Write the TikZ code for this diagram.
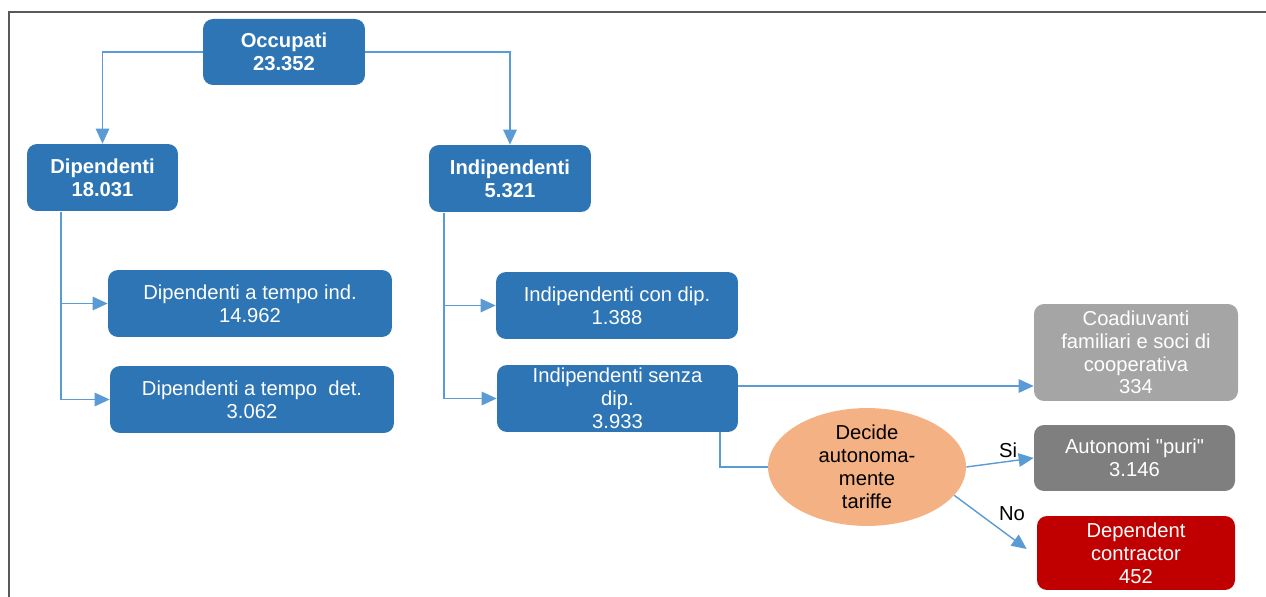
\documentclass[tikz,border=0pt]{standalone}
\usepackage{fontspec}
\setmainfont{Liberation Sans}
\usetikzlibrary{arrows.meta,shapes.geometric}
\definecolor{boxblue}{HTML}{2E75B6}
\definecolor{linkblue}{HTML}{5B9BD5}
\definecolor{coopgrey}{HTML}{A5A5A5}
\definecolor{autgrey}{HTML}{7F7F7F}
\definecolor{depred}{HTML}{C00000}
\definecolor{decorange}{HTML}{F4B183}
\definecolor{framegrey}{HTML}{595959}

\begin{document}
\begin{tikzpicture}[x=0.02cm, y=-0.02cm,
    font=\fontsize{11.5}{13}\selectfont,
    catbox/.style={rectangle, rounded corners=0.2cm, fill=#1, text=white, align=center, inner sep=0pt},
    catbox/.default=boxblue,
    link/.style={draw=linkblue, line width=0.8pt},
    linkarrow/.style={link, -{Triangle[length=0.3cm,width=0.27cm]}},
    choice/.style={ellipse, fill=decorange, align=center, inner sep=0pt, minimum width=3.96cm, minimum height=2.3cm}]
  \useasboundingbox (0,0) rectangle (1266,597);
  \draw[framegrey, line width=1.2pt] (9,597) -- (9,12) -- (1266,12);

  \node[catbox, minimum width=3.24cm, minimum height=1.32cm, font=\fontsize{11.5}{13}\selectfont\bfseries] (occ) at (284,52) {Occupati\\23.352};
  \node[catbox, minimum width=3.02cm, minimum height=1.34cm, font=\fontsize{11.5}{13}\selectfont\bfseries] (dip) at (102.5,177.5) {Dipendenti\\18.031};
  \node[catbox, minimum width=3.24cm, minimum height=1.34cm, font=\fontsize{11.5}{13}\selectfont\bfseries] (ind) at (510,178.5) {Indipendenti\\5.321};
  \node[catbox, minimum width=5.68cm, minimum height=1.34cm] (dti) at (250,303.5) {Dipendenti a tempo ind.\\14.962};
  \node[catbox, minimum width=5.68cm, minimum height=1.34cm] (dtd) at (252,399.5) {Dipendenti a tempo\ \ det.\\3.062};
  \node[catbox, minimum width=4.84cm, minimum height=1.34cm] (icd) at (617,305.5) {Indipendenti con dip.\\1.388};
  \node[catbox, minimum width=4.82cm, minimum height=1.34cm] (isd) at (617.5,398.5) {Indipendenti senza\\dip.\\3.933};
  \node[catbox=coopgrey, minimum width=4.08cm, minimum height=1.94cm] (coad) at (1136,352.5) {Coadiuvanti\\familiari e soci di\\cooperativa\\334};
  \node[catbox=autgrey, minimum width=4.02cm, minimum height=1.32cm] (aut) at (1134.5,458) {Autonomi \textquotedbl puri\textquotedbl\\3.146};
  \node[catbox=depred, minimum width=3.96cm, minimum height=1.48cm] (dep) at (1136,553) {Dependent\\contractor\\452};
  \node[choice] (dec) at (867,467) {Decide\\autonoma-\\mente\\tariffe};

  \coordinate (dbus) at (61,212);
  \coordinate (ibus) at (444,213);

  \draw[linkarrow] (occ.west) -| (dip.north);
  \draw[linkarrow] (occ.east) -| (ind.north);
  \draw[linkarrow] (dbus) |- (dti.west);
  \draw[linkarrow] (dbus) |- (dtd.west);
  \draw[linkarrow] (ibus) |- (icd.west);
  \draw[linkarrow] (ibus) |- (isd.west);
  \draw[linkarrow] ([yshift=0.25cm]isd.east) -- ([yshift=0.25cm]isd.east -| coad.west);
  \draw[link] ([xshift=2.05cm]isd.south) |- (dec.west);
  \draw[linkarrow] (dec.east) -- node[above, pos=0.62, inner sep=1.5pt] {Si} (aut.west);
  \draw[linkarrow] (dec.-18) -- node[above right, pos=0.56, inner sep=2pt] {No} ([xshift=-0.2cm,yshift=0.08cm]dep.west);
\end{tikzpicture}
\end{document}
